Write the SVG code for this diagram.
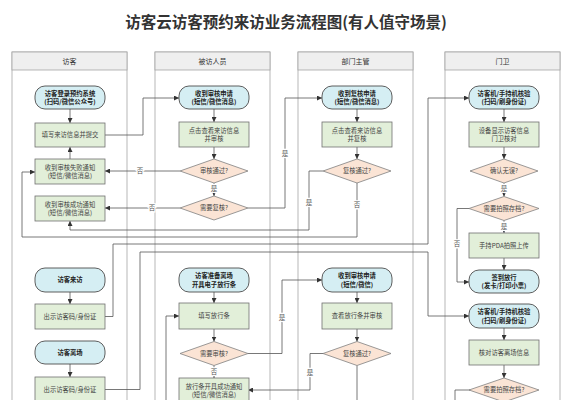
<svg xmlns="http://www.w3.org/2000/svg" width="571" height="400" viewBox="0 0 571 400">
<defs>
<marker id="arr" viewBox="0 0 10 10" refX="10" refY="5" markerWidth="5" markerHeight="5" orient="auto" markerUnits="userSpaceOnUse">
<path d="M0,0 L10,5 L0,10 z" fill="#333"/>
</marker>
<style>
.lane{fill:#fff;stroke:#a6a6a6;stroke-width:0.8}
.hdr{fill:#efefef;stroke:#a6a6a6;stroke-width:0.8}
.ht{font-family:"Noto Sans CJK SC","Noto Sans",sans-serif;font-size:7px;fill:#333;text-anchor:middle}
.term{fill:#d5eef3;stroke:#4d4d4d;stroke-width:0.9}
.proc{fill:#e2efd9;stroke:#707070;stroke-width:0.8}
.dec{fill:#fbe4d5;stroke:#808080;stroke-width:0.8}
.t{font-family:"Noto Sans CJK SC","Noto Sans",sans-serif;font-size:6.3px;fill:#444;text-anchor:middle}
.tb{font-family:"Noto Sans CJK SC","Noto Sans",sans-serif;font-size:6.3px;fill:#222;font-weight:bold;text-anchor:middle}
.e{fill:none;stroke:#555;stroke-width:0.8;marker-end:url(#arr)}
.en{fill:none;stroke:#555;stroke-width:0.8}
.lbl{font-family:"Noto Sans CJK SC","Noto Sans",sans-serif;font-size:6.5px;fill:#555;text-anchor:middle;stroke:#fff;stroke-width:2.5;paint-order:stroke}
.title{font-family:"Noto Sans CJK SC","Noto Sans",sans-serif;font-size:15.5px;font-weight:bold;fill:#333;text-anchor:middle}
</style>
</defs>
<rect width="571" height="400" fill="#fff"/>
<text class="title" x="286" y="27.5">访客云访客预约来访业务流程图(有人值守场景)</text>

<g id="lanes">
<rect class="lane" x="12" y="52" width="115" height="360"/>
<rect class="hdr" x="12" y="52" width="115" height="18"/>
<text class="ht" x="69.5" y="63.5">访客</text>
<rect class="lane" x="155" y="52" width="115" height="360"/>
<rect class="hdr" x="155" y="52" width="115" height="18"/>
<text class="ht" x="212.5" y="63.5">被访人员</text>
<rect class="lane" x="298" y="52" width="115" height="360"/>
<rect class="hdr" x="298" y="52" width="115" height="18"/>
<text class="ht" x="355.5" y="63.5">部门主管</text>
<rect class="lane" x="445" y="52" width="115" height="360"/>
<rect class="hdr" x="445" y="52" width="115" height="18"/>
<text class="ht" x="502.5" y="63.5">门卫</text>
</g>

<g id="connectors">
<path class="e" d="M70,109 V123"/>
<path class="e" d="M105,135 H143 V98 H179"/>
<path class="e" d="M70,159 V147"/>
<path class="e" d="M214,109 V122"/>
<path class="e" d="M214,147 V159"/>
<path class="e" d="M214,183 V196"/>
<path class="e" d="M180,171 H105"/>
<path class="e" d="M180,208 H105"/>
<path class="e" d="M248,208 H285 V98 H322"/>
<path class="e" d="M357,109 V122"/>
<path class="e" d="M357,147 V159"/>
<path class="e" d="M323,171 H309 V230 H70 V221"/>
<path class="e" d="M357,183 V237 H22 V172 H35"/>
<path class="e" d="M504,109 V122"/>
<path class="e" d="M504,147 V159"/>
<path class="e" d="M504,183 V196.5"/>
<path class="e" d="M504,220.5 V233"/>
<path class="e" d="M504,258 V270"/>
<path class="e" d="M469,208.5 H457 V282 H469"/>
<path class="e" d="M70,292 V304"/>
<path class="e" d="M105,316.5 H113 V244 H428 V98 H469"/>
<path class="e" d="M70,364 V377"/>
<path class="e" d="M105,389.5 H140 V252 H428 V316 H469"/>
<path class="e" d="M504,328 V340"/>
<path class="e" d="M504,365 V378"/>
<path class="en" d="M470,390 H455 V405"/>
<path class="e" d="M214,292 V303"/>
<path class="e" d="M214,329 V341.5"/>
<path class="e" d="M214,365.5 V378"/>
<path class="e" d="M248,353.5 H282 V280 H322"/>
<path class="e" d="M166,405 V316 H179"/>
<path class="e" d="M357,292 V303"/>
<path class="e" d="M357,329 V341.5"/>
<path class="e" d="M323,353.5 H310 V390 H248"/>
<path class="en" d="M357,365.5 V405"/>
<text class="lbl" x="214" y="191">是</text>
<text class="lbl" x="140" y="173.3">否</text>
<text class="lbl" x="152" y="210.3">否</text>
<text class="lbl" x="285" y="155.5">是</text>
<text class="lbl" x="309" y="204.5">是</text>
<text class="lbl" x="357" y="206.5">否</text>
<text class="lbl" x="504" y="191">是</text>
<text class="lbl" x="504" y="228.5">是</text>
<text class="lbl" x="457" y="245.5">否</text>
<text class="lbl" x="214" y="373.5">否</text>
<text class="lbl" x="282" y="319.5">是</text>
<text class="lbl" x="310" y="374.5">是</text>
</g>

<g id="n_login"><rect class="term" x="35" y="86" width="70" height="23" rx="10"/><text class="tb" x="70" y="95.5">访客登录预约系统</text><text class="tb" x="70" y="104">(扫码/微信公众号)</text></g>
<g id="n_fill"><rect class="proc" x="35" y="123" width="70" height="24"/><text class="t" x="70" y="137.2">填写来访信息并提交</text></g>
<g id="n_fail"><rect class="proc" x="35" y="159" width="70" height="25"/><text class="t" x="70" y="169.5">收到审核失败通知</text><text class="t" x="70" y="178">(短信/微信消息)</text></g>
<g id="n_succ"><rect class="proc" x="35" y="196" width="70" height="25"/><text class="t" x="70" y="206.5">收到审核成功通知</text><text class="t" x="70" y="215">(短信/微信消息)</text></g>
<g id="n_visit"><rect class="term" x="35" y="268" width="70" height="24" rx="10"/><text class="tb" x="70" y="282.2">访客来访</text></g>
<g id="n_show1"><rect class="proc" x="35" y="304" width="70" height="25"/><text class="t" x="70" y="318.7">出示访客码/身份证</text></g>
<g id="n_leave"><rect class="term" x="35" y="341" width="70" height="23" rx="10"/><text class="tb" x="70" y="354.7">访客离场</text></g>
<g id="n_show2"><rect class="proc" x="35" y="377" width="70" height="25"/><text class="t" x="70" y="391.7">出示访客码/身份证</text></g>

<g id="n_req"><rect class="term" x="179" y="86" width="70" height="23" rx="10"/><text class="tb" x="214" y="95.5">收到审核申请</text><text class="tb" x="214" y="104">(短信/微信消息)</text></g>
<g id="n_view"><rect class="proc" x="179" y="122" width="70" height="25"/><text class="t" x="214" y="132.5">点击查看来访信息</text><text class="t" x="214" y="141">并审核</text></g>
<g id="n_pass"><polygon class="dec" points="180,171 214,159 248,171 214,183"/><text class="t" x="214" y="173.2">审核通过?</text></g>
<g id="n_recheck"><polygon class="dec" points="180,208 214,196 248,208 214,220"/><text class="t" x="214" y="210.2">需要复核?</text></g>
<g id="n_prep"><rect class="term" x="179" y="268" width="70" height="24" rx="10"/><text class="tb" x="214" y="278">访客准备离场</text><text class="tb" x="214" y="286.5">开具电子放行条</text></g>
<g id="n_passfill"><rect class="proc" x="179" y="303" width="70" height="26"/><text class="t" x="214" y="318.2">填写放行条</text></g>
<g id="n_audit"><polygon class="dec" points="180,353.5 214,341.5 248,353.5 214,365.5"/><text class="t" x="214" y="355.7">需要审核?</text></g>
<g id="n_passok"><rect class="proc" x="179" y="378" width="70" height="25"/><text class="t" x="214" y="388.5">放行条开具成功通知</text><text class="t" x="214" y="397">(短信/微信消息)</text></g>

<g id="n_req2"><rect class="term" x="322" y="86" width="70" height="23" rx="10"/><text class="tb" x="357" y="95.5">收到复核申请</text><text class="tb" x="357" y="104">(短信/微信消息)</text></g>
<g id="n_view2"><rect class="proc" x="322" y="122" width="70" height="25"/><text class="t" x="357" y="132.5">点击查看来访信息</text><text class="t" x="357" y="141">并复核</text></g>
<g id="n_pass2"><polygon class="dec" points="323,171 357,159 391,171 357,183"/><text class="t" x="357" y="173.2">复核通过?</text></g>
<g id="n_req3"><rect class="term" x="322" y="268" width="70" height="24" rx="10"/><text class="tb" x="357" y="278">收到审核申请</text><text class="tb" x="357" y="286.5">(短信/微信)</text></g>
<g id="n_view3"><rect class="proc" x="322" y="303" width="70" height="26"/><text class="t" x="357" y="318.2">查看放行条并审核</text></g>
<g id="n_pass3"><polygon class="dec" points="323,353.5 357,341.5 391,353.5 357,365.5"/><text class="t" x="357" y="355.7">复核通过?</text></g>

<g id="n_check"><rect class="term" x="469" y="86" width="70" height="23" rx="10"/><text class="tb" x="504" y="95.5">访客机/手持机核验</text><text class="tb" x="504" y="104">(扫码/刷身份证)</text></g>
<g id="n_disp"><rect class="proc" x="469" y="122" width="70" height="25"/><text class="t" x="504" y="132.5">设备显示访客信息</text><text class="t" x="504" y="141">门卫核对</text></g>
<g id="n_ok"><polygon class="dec" points="470,171 504,159 538,171 504,183"/><text class="t" x="504" y="173.2">确认无误?</text></g>
<g id="n_photo"><polygon class="dec" points="469,208.5 504,196.5 539,208.5 504,220.5"/><text class="t" x="504" y="210.7">需要拍照存档?</text></g>
<g id="n_pda"><rect class="proc" x="469" y="233" width="70" height="25"/><text class="t" x="504" y="247.7">手持PDA拍照上传</text></g>
<g id="n_sign"><rect class="term" x="469" y="270" width="70" height="23" rx="10"/><text class="tb" x="504" y="279.5">签到放行</text><text class="tb" x="504" y="288">(发卡/打印小票)</text></g>
<g id="n_check2"><rect class="term" x="469" y="304" width="70" height="24" rx="10"/><text class="tb" x="504" y="314">访客机/手持机核验</text><text class="tb" x="504" y="322.5">(扫码/刷身份证)</text></g>
<g id="n_verify"><rect class="proc" x="469" y="340" width="70" height="25"/><text class="t" x="504" y="354.7">核对访客离场信息</text></g>
<g id="n_photo2"><polygon class="dec" points="469,390 504,378 539,390 504,402"/><text class="t" x="504" y="392.2">需要拍照存档?</text></g>
</svg>
